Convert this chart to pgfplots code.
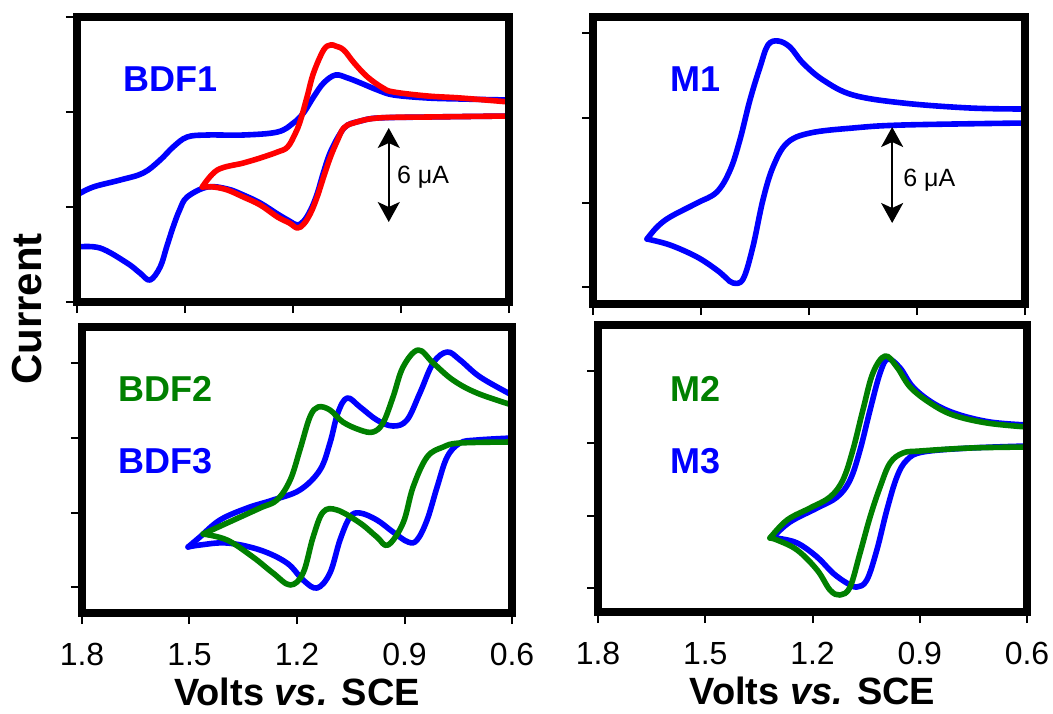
\documentclass[border=0pt]{standalone}
\usepackage{fontspec}
\setmainfont{Liberation Sans}
\usepackage{pgfplots}
\pgfplotsset{compat=1.18}
\usetikzlibrary{arrows.meta}
\definecolor{cvblue}{RGB}{0,0,255}
\definecolor{cvred}{RGB}{255,0,0}
\definecolor{cvgreen}{RGB}{0,128,0}
\pgfplotsset{
 cvpanel/.style={
  scale only axis, anchor=north west,
  x dir=reverse, xmin=0.6, xmax=1.8,
  xtick={1.8,1.5,1.2,0.9,0.6},
  tick align=outside, tick pos=left,
  major tick length=5.5pt,
  tick style={line width=1pt, black},
  axis line style={line width=4pt, line join=miter},
  axis on top,
  yticklabels={},
 },
 toppanel/.style={xticklabels={}},
 botpanel/.style={
  xticklabels={1.8,1.5,1.2,0.9,0.6},
  xticklabel style={font=\fontsize{16}{16}\selectfont, inner sep=0pt, yshift=-9.3pt},
  xlabel={Volts \textit{vs.} SCE},
  xlabel style={at={(rel axis cs:0.5,0)}, anchor=base, inner sep=0pt, yshift=-46pt, font=\bfseries\fontsize{19}{19}\selectfont},
 },
 cv/.style={smooth, tension=0.6, no marks, line width=2.8pt, line cap=round, line join=round},
}
\tikzset{
 lab/.style={anchor=base west, inner sep=0pt, font=\bfseries\fontsize{18}{18}\selectfont},
 ann/.style={anchor=west, inner sep=0pt, font=\fontsize{12.5}{12.5}\selectfont},
 dbl/.style={line width=1pt, {Stealth[length=10pt,width=11pt,inset=2.5pt]}-{Stealth[length=10pt,width=11pt,inset=2.5pt]}},
}
\begin{document}
\begin{tikzpicture}
\path[use as bounding box] (0pt,0pt) rectangle (526.5pt,-356.5pt);
\node[rotate=90, font=\bfseries\fontsize{21}{21}\selectfont] at (13.5pt,-154.5pt) {Current};

% ---------- top left: BDF1 ----------
\begin{axis}[cvpanel, toppanel, at={(38.5pt,-8.5pt)}, width=216pt, height=142.5pt,
  ymin=0, ymax=285, ytick={0,95,190,285}]
\addplot[cv, cvblue] coordinates {(1.800,107) (1.755,115) (1.680,122) (1.616,129) (1.569,142) (1.533,155) (1.494,165) (1.438,167) (1.338,167) (1.243,170) (1.199,179) (1.171,189) (1.143,205) (1.115,219) (1.082,227) (1.048,224) (1.012,219) (0.965,212) (0.920,207) (0.826,204) (0.734,203) (0.600,202)};
\addplot[cv, cvblue] coordinates {(0.600,186) (0.826,185) (0.965,184) (1.012,181) (1.048,177) (1.068,169) (1.096,150) (1.115,130) (1.133,108) (1.151,92) (1.170,81) (1.188,77) (1.210,81) (1.243,88) (1.291,99) (1.338,107) (1.382,113) (1.438,115) (1.494,105) (1.515,92) (1.533,75) (1.551,55) (1.569,35) (1.597,22) (1.625,29) (1.661,39) (1.736,54) (1.800,55)};
\addplot[cv, cvred] coordinates {(1.452,115) (1.410,132) (1.338,139) (1.291,144) (1.243,150) (1.215,155) (1.193,169) (1.179,182) (1.161,205) (1.143,229) (1.115,252) (1.096,257) (1.082,256) (1.059,252) (1.030,239) (0.993,225) (0.950,214) (0.920,210) (0.826,206) (0.734,204) (0.600,200)};
\addplot[cv, cvred] coordinates {(0.600,186) (0.826,185) (0.965,184) (1.032,179) (1.059,174) (1.076,162) (1.096,145) (1.115,125) (1.133,105) (1.151,89) (1.170,78) (1.188,74) (1.210,79) (1.243,85) (1.291,97) (1.338,105) (1.382,112) (1.420,115) (1.452,115)};
\node[lab, text=cvblue] at (axis cs:1.672,211) {BDF1};
\draw[dbl] (axis cs:0.934,174) -- (axis cs:0.934,80);
\node[ann] at (axis cs:0.912,125) {6 μA};
\end{axis}

% ---------- top right: M1 ----------
\begin{axis}[cvpanel, toppanel, at={(296.5pt,-8.5pt)}, width=216pt, height=143.5pt,
  ymin=0, ymax=287, ytick={17,101,186,271}]
\addplot[cv, cvblue] coordinates {(1.650,65) (1.622,77) (1.586,87) (1.511,101) (1.456,112) (1.419,134) (1.392,164) (1.364,204) (1.336,237) (1.314,259) (1.286,263) (1.253,257) (1.217,241) (1.161,224) (1.078,209) (0.939,201) (0.753,196) (0.600,195)};
\addplot[cv, cvblue] coordinates {(1.650,65) (1.586,59) (1.511,47) (1.456,34) (1.430,26) (1.411,21) (1.383,25) (1.356,57) (1.328,104) (1.300,137) (1.261,161) (1.197,171) (1.078,176) (0.939,179) (0.600,181)};
\node[lab, text=cvblue] at (axis cs:1.586,213) {M1};
\draw[dbl] (axis cs:0.969,177) -- (axis cs:0.969,81);
\node[ann] at (axis cs:0.939,124) {6 μA};
\end{axis}

% ---------- bottom left: BDF2 / BDF3 ----------
\begin{axis}[cvpanel, botpanel, at={(41pt,-163.5pt)}, width=215pt, height=143pt,
  ymin=0, ymax=286, ytick={26,100,175,250}]
\addplot[cv, cvblue] coordinates {(1.504,66) (1.471,76) (1.415,93) (1.339,105) (1.267,113) (1.192,123) (1.136,143) (1.108,170) (1.086,200) (1.060,215) (1.024,206) (0.977,193) (0.932,187) (0.893,193) (0.857,220) (0.820,250) (0.781,261) (0.745,253) (0.689,236) (0.600,218)};
\addplot[cv, cvblue] coordinates {(0.600,175) (0.698,173) (0.745,170) (0.781,156) (0.809,126) (0.837,93) (0.865,73) (0.890,71) (0.932,81) (0.977,93) (1.024,100) (1.052,96) (1.080,73) (1.108,40) (1.144,25) (1.183,33) (1.228,50) (1.303,63) (1.395,70) (1.471,68) (1.504,66)};
\addplot[cv, cvgreen] coordinates {(1.462,79) (1.395,90) (1.303,105) (1.256,113) (1.219,133) (1.192,163) (1.164,196) (1.141,206) (1.108,203) (1.072,191) (1.024,183) (0.988,181) (0.960,190) (0.932,216) (0.904,246) (0.862,263) (0.820,250) (0.765,233) (0.698,220) (0.600,208)};
\addplot[cv, cvgreen] coordinates {(0.600,171) (0.745,170) (0.792,166) (0.837,156) (0.876,126) (0.904,90) (0.946,68) (0.977,76) (1.024,90) (1.088,103) (1.127,101) (1.155,76) (1.183,40) (1.219,28) (1.267,40) (1.323,56) (1.395,73) (1.462,79)};
\node[lab, text=cvgreen] at (axis cs:1.700,212) {BDF2};
\node[lab, text=cvblue] at (axis cs:1.700,140) {BDF3};
\end{axis}

% ---------- bottom right: M2 / M3 ----------
\begin{axis}[cvpanel, botpanel, at={(299pt,-162.5pt)}, width=214.5pt, height=143.5pt,
  ymin=0, ymax=287, ytick={24,96,169,241}]
\addplot[cv, cvblue] coordinates {(1.310,75) (1.263,90) (1.187,104) (1.131,115) (1.095,132) (1.067,162) (1.039,202) (1.011,239) (0.989,253) (0.955,244) (0.919,225) (0.863,209) (0.796,198) (0.703,190) (0.600,187)};
\addplot[cv, cvblue] coordinates {(0.600,166) (0.759,164) (0.891,160) (0.936,152) (0.964,135) (0.992,102) (1.020,62) (1.048,32) (1.076,25) (1.104,29) (1.143,39) (1.187,55) (1.243,69) (1.299,74) (1.310,75)};
\addplot[cv, cvgreen] coordinates {(1.319,74) (1.271,92) (1.207,104) (1.151,115) (1.115,132) (1.087,162) (1.059,202) (1.031,239) (0.997,256) (0.964,245) (0.927,225) (0.871,209) (0.807,197) (0.712,189) (0.600,185)};
\addplot[cv, cvgreen] coordinates {(0.600,165) (0.759,164) (0.899,161) (0.947,159) (0.983,149) (1.011,125) (1.039,95) (1.067,59) (1.095,25) (1.123,17) (1.151,22) (1.187,42) (1.243,62) (1.299,72) (1.319,74)};
\node[lab, text=cvgreen] at (axis cs:1.599,211) {M2};
\node[lab, text=cvblue] at (axis cs:1.599,139) {M3};
\end{axis}
\end{tikzpicture}
\end{document}
